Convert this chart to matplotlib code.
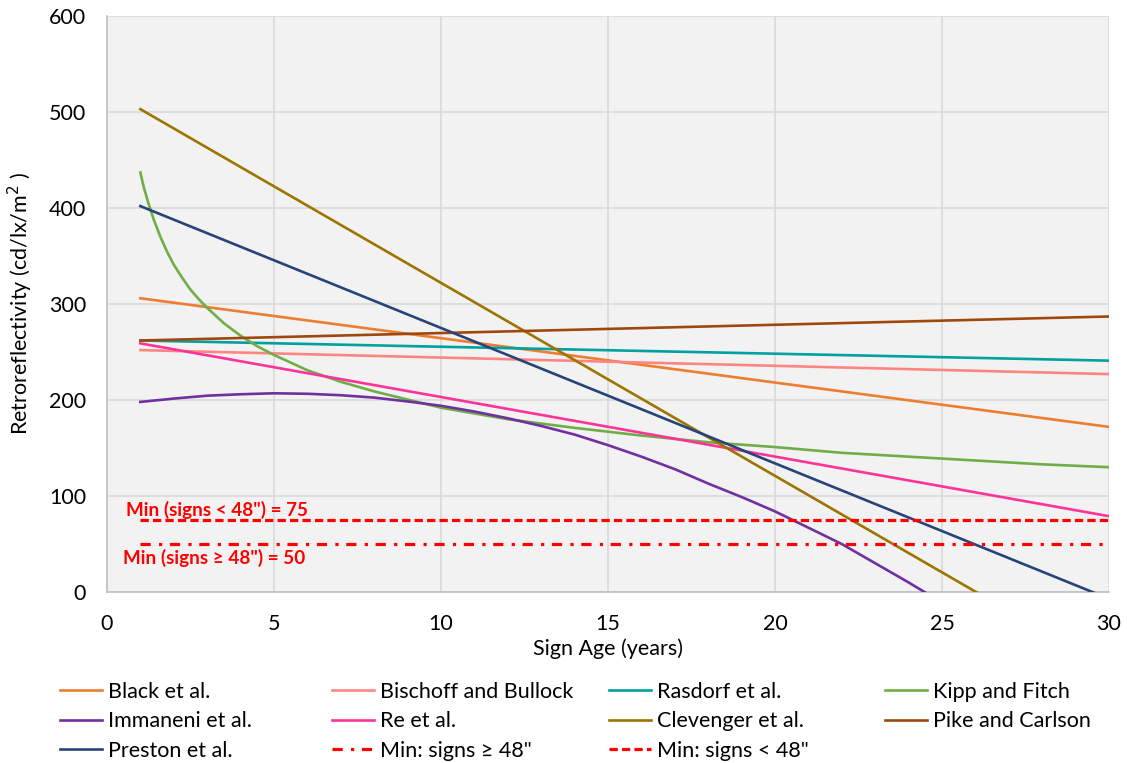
"""
Sign retroreflectivity deterioration models vs. sign age.
"""

import matplotlib
matplotlib.use("Agg")
import matplotlib.pyplot as plt

FIG_PATH = "out.png"

# ages for the curved models, and end points for the straight ones
KIPP_AGES = [1, 1.1, 1.25, 1.4, 1.6, 1.8, 2, 2.25, 2.5, 2.75, 3, 3.5, 4, 4.5, 5, 6, 7, 8,
             10, 12, 14, 16, 18, 20, 22, 24, 26, 28, 30]
IMM_AGES = [1, 2, 3, 4, 5, 6, 7, 8, 9, 10, 11, 12, 13, 14, 15, 16, 17, 18, 19, 20, 21,
            22, 23, 24, 25, 26]
END_AGES = [1, 30]

kipp_fitch = [437, 422, 404, 388, 370, 354.5, 341, 327.5, 315, 305, 296, 280, 267, 256,
              247, 231, 219, 209, 192, 180, 171, 163, 156, 151, 145, 141, 137, 133, 130]
immaneni = [198, 201.5, 204.5, 206, 207, 206.5, 205, 202.5, 198.5, 194, 188, 181, 173,
            164, 153, 141, 128, 113, 99, 84, 67, 50, 30, 10, -11, -33]

black = [306, 172]
bischoff = [252, 227]
rasdorf = [262, 241]
pike = [262, 287]
re_etal = [259, 79]
clevenger = [503, -80]
preston = [402, -7]

MIN_SMALL = 75   # signs < 48"
MIN_LARGE = 50   # signs >= 48"

FONT = ["Lato", "DejaVu Sans"]
FS = 15.5


def main() -> None:
    plt.rcParams["font.family"] = FONT
    fig = plt.figure(figsize=(11.27, 7.63), dpi=100)
    ax = fig.add_axes([0.0949, 0.2241, 0.8891, 0.7549])
    ax.set_facecolor("#f2f2f2")

    lw = 1.9
    series = [
        ("Black et al.", END_AGES, black, "#ED7D31"),
        ("Bischoff and Bullock", END_AGES, bischoff, "#FF8585"),
        ("Rasdorf et al.", END_AGES, rasdorf, "#00A0A0"),
        ("Kipp and Fitch", KIPP_AGES, kipp_fitch, "#70AD47"),
        ("Immaneni et al.", IMM_AGES, immaneni, "#7030A0"),
        ("Re et al.", END_AGES, re_etal, "#FF3399"),
        ("Clevenger et al.", END_AGES, clevenger, "#9C7400"),
        ("Pike and Carlson", END_AGES, pike, "#9E480E"),
        ("Preston et al.", END_AGES, preston, "#264478"),
    ]
    handles = {}
    for name, xs, ys, color in series:
        (h,) = ax.plot(xs, ys, color=color, lw=lw, label=name, zorder=3)
        handles[name] = h

    (h_large,) = ax.plot(END_AGES, [MIN_LARGE, MIN_LARGE], color="#FF0000", lw=2.3,
                         dashes=(3.2, 2.6, 1.0, 2.4), label='Min: signs \u2265 48"', zorder=3)
    (h_small,) = ax.plot(END_AGES, [MIN_SMALL, MIN_SMALL], color="#FF0000", lw=2.3,
                         dashes=(2.6, 1.3), label='Min: signs < 48"', zorder=3)
    handles['Min: signs \u2265 48"'] = h_large
    handles['Min: signs < 48"'] = h_small

    ax.text(0.57, 79.5, 'Min (signs < 48") = 75', color="#FF0000", fontsize=13.6,
            fontweight="bold", va="baseline", ha="left")
    ax.text(0.47, 29, 'Min (signs \u2265 48") = 50', color="#FF0000", fontsize=13.6,
            fontweight="bold", va="baseline", ha="left")

    ax.set_xlim(0, 30)
    ax.set_ylim(0, 600)
    ax.set_xticks(range(0, 31, 5))
    ax.set_yticks(range(0, 601, 100))
    ax.grid(True, color="#d9d9d9", lw=1.2, zorder=0)
    ax.set_axisbelow(True)
    for side in ["top", "right"]:
        ax.spines[side].set_visible(False)
    for side in ["left", "bottom"]:
        ax.spines[side].set_color("#bfbfbf")
        ax.spines[side].set_linewidth(1.2)
    ax.tick_params(length=0, labelsize=FS, colors="black")
    ax.tick_params(axis="x", pad=16)
    ax.tick_params(axis="y", pad=15)

    ax.set_xlabel("Sign Age (years)", fontsize=FS, labelpad=3)
    ax.set_ylabel("Retroreflectivity (cd/lx/m$^2$ )", fontsize=FS, labelpad=10)

    # legend: four evenly spaced columns
    columns = [
        ["Black et al.", "Immaneni et al.", "Preston et al."],
        ["Bischoff and Bullock", "Re et al.", 'Min: signs \u2265 48"'],
        ["Rasdorf et al.", "Clevenger et al.", 'Min: signs < 48"'],
        ["Kipp and Fitch", "Pike and Carlson"],
    ]
    col_x = [60, 332, 609, 885]
    for names, x in zip(columns, col_x):
        fig.legend([handles[n] for n in names], names, loc="upper left",
                   bbox_to_anchor=(x / 1127, 1 - 682 / 763), frameon=False,
                   fontsize=FS, handlelength=1.93, handletextpad=0.32,
                   labelspacing=0.44, borderpad=0, borderaxespad=0)

    fig.savefig(FIG_PATH, dpi=100)
    plt.close(fig)


if __name__ == "__main__":
    main()
